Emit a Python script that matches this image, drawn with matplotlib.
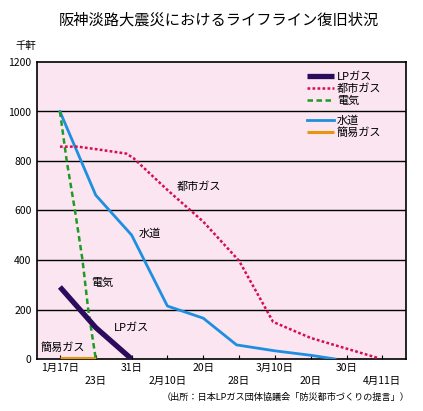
import matplotlib
matplotlib.use("Agg")
import matplotlib.pyplot as plt
from matplotlib.legend import Legend

plt.rcParams['font.family'] = ['Noto Sans CJK JP', 'DejaVu Sans']

# Category ticks (evenly spaced on chart)
tick_labels = ['1月17日', '23日', '31日', '2月10日', '20日', '28日', '3月10日', '20日', '30日', '4月11日']

# Series (x = category position, y = thousands of households)
lp_x = [0, 1, 2]
lp_y = [291, 127, 0]

city_x = [0, 0.5, 1.0, 1.85, 2.05, 3, 4, 5, 5.95, 7, 8, 8.9]
city_y = [858, 858, 848, 830, 812, 683, 555, 397, 150, 85, 42, 3]

elec_x = [0, 0.19, 0.42, 0.63, 0.79, 1.0]
elec_y = [1000, 800, 600, 400, 200, 0]

water_x = [0, 1, 2, 3, 4, 4.93, 6, 7, 7.68]
water_y = [1000, 662, 501, 214, 165, 57, 33, 15, 0]

simple_x = [0, 1]
simple_y = [3, 3]

fig = plt.figure(figsize=(4.23, 4.11), dpi=100)
ax = fig.add_axes([37/423, 52/411, (406-37)/423, (359-62)/411])
ax.set_facecolor('#fae5f1')

ax.set_xlim(-0.64, 9.66)
ax.set_ylim(0, 1200)
for v in [200, 400, 600, 800, 1000]:
    ax.axhline(v, color='black', lw=1.0, zorder=1)

h_simple, = ax.plot(simple_x, simple_y, color='#e8960c', lw=2.2, zorder=3, solid_capstyle='butt')
h_water, = ax.plot(water_x, water_y, color='#1e8fe0', lw=2.0, zorder=3)
h_elec, = ax.plot(elec_x, elec_y, color='#1f9a22', lw=1.8, ls=(0, (2.2, 1.4)), zorder=3)
h_city, = ax.plot(city_x, city_y, color='#d40f4e', lw=1.8, ls=(0, (1.1, 0.9)), zorder=3)
h_lp, = ax.plot(lp_x, lp_y, color='#2a0b5c', lw=3.8, zorder=4, solid_capstyle='butt')

leg_kw = dict(frameon=False, fontsize=8, handlelength=2.4, handletextpad=0.3,
              labelspacing=0.12, borderaxespad=0.0, borderpad=0.0)
leg1 = Legend(ax, [h_lp, h_city, h_elec], ['LPガス', '都市ガス', '電気'],
              loc='upper left', bbox_to_anchor=((307-37)/369, 1 - (72-62)/297), **leg_kw)
leg2 = Legend(ax, [h_water, h_simple], ['水道', '簡易ガス'],
              loc='upper left', bbox_to_anchor=((307-37)/369, 1 - (115-62)/297), **leg_kw)
ax.add_artist(leg1)
ax.add_artist(leg2)

ax.set_yticks([0, 200, 400, 600, 800, 1000, 1200])
ax.set_yticklabels(['0', '200', '400', '600', '800', '1000', '1200'], fontsize=7.5)
ax.tick_params(axis='y', length=0, pad=4)

ax.set_xticks(range(len(tick_labels)))
ax.set_xticklabels([])
ax.tick_params(axis='x', direction='in', length=3, width=0.8)
for i, lab in enumerate(tick_labels):
    yoff = -0.03 if i % 2 == 0 else -0.075
    ax.text(i, yoff, lab, transform=ax.get_xaxis_transform(), ha='center', va='center', fontsize=7.5)

for s in ax.spines.values():
    s.set_linewidth(1.2)

# annotations
ax.text(3.87, 695, '都市ガス', fontsize=8, ha='center', va='center')
ax.text(2.51, 505, '水道', fontsize=8, ha='center', va='center')
ax.text(1.17, 307, '電気', fontsize=8, ha='center', va='center')
ax.text(2.0, 125, 'LPガス', fontsize=8, ha='center', va='center')
ax.text(0.08, 45, '簡易ガス', fontsize=8, ha='center', va='center')

fig.text(219/423, 1 - 20/411, '阪神淡路大震災におけるライフライン復旧状況', fontsize=11, ha='center', va='center')
fig.text(26/423, 1 - 46/411, '千軒', fontsize=7.5, ha='center', va='center')
fig.text(410/423, 1 - 397/411, '（出所：日本LPガス団体協議会「防災都市づくりの提言」）', fontsize=6.6,
         ha='right', va='center')

fig.savefig('out.png', dpi=100, facecolor='white')
